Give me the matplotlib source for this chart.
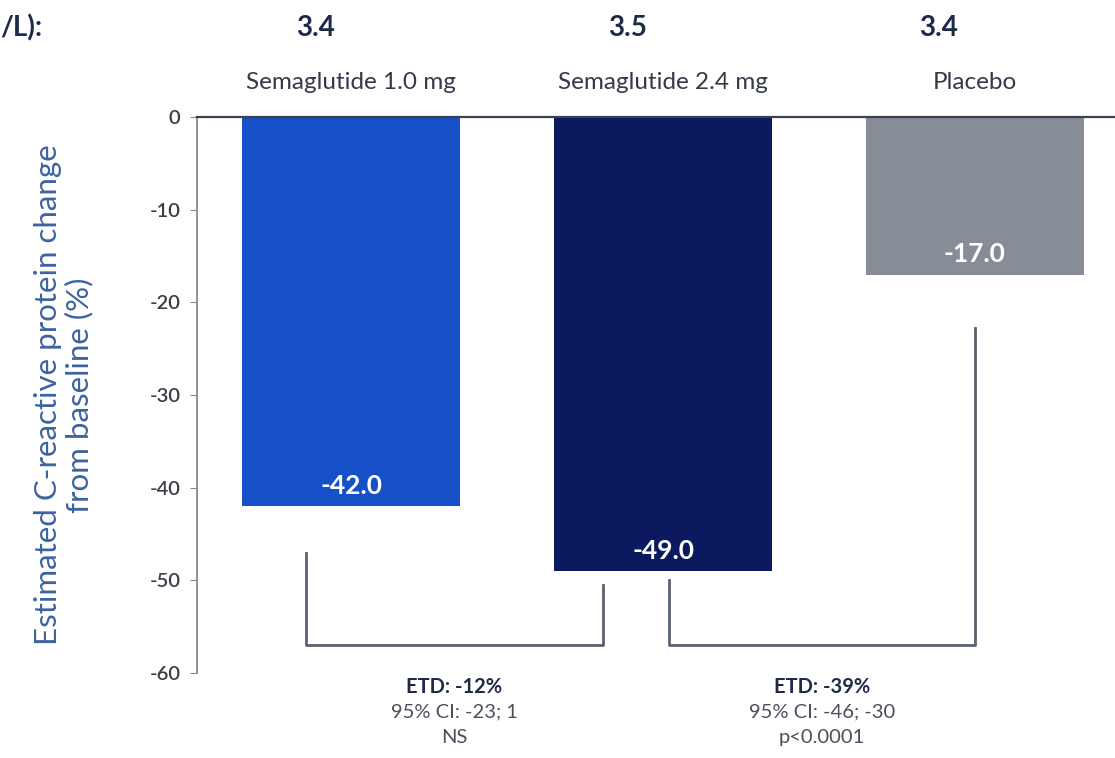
import matplotlib.pyplot as plt

plt.rcParams['font.family'] = ['Lato', 'DejaVu Sans']

# data
groups    = ["Semaglutide 1.0 mg", "Semaglutide 2.4 mg", "Placebo"]
changes   = [-42.0, -49.0, -17.0]
baseline  = ["3.4", "3.5", "3.4"]
yticks    = [0, -10, -20, -30, -40, -50, -60]
etd_lines = [["ETD: -12%", "95% CI: -23; 1", "NS"],
             ["ETD: -39%", "95% CI: -46; -30", "p<0.0001"]]
pairs     = [(0, 1), (1, 2)]

colors = ["#1550c8", "#0b1a5e", "#878d97"]
NAVY   = "#1f2a4a"
GREY   = "#4a4f5c"
LINE   = "#5b6170"

fig = plt.figure(figsize = (11.15, 7.58), dpi = 100)
ax = fig.add_axes([0.1767, 0.1121, 0.8233, 0.7335])

x = list(range(len(groups)))
ax.bar(x, changes, width = 0.70, color = colors, zorder = 2)

ax.set_xlim(-0.495, 2.45)
ax.set_ylim(-60, 0)
ax.set_yticks(yticks)
ax.set_yticklabels([str(t) for t in yticks], fontsize = 14.5, color = "#3a3d45",
                   fontweight = "semibold")
ax.set_xticks([])
ax.tick_params(axis = "y", direction = "out", length = 5, color = "#888888", pad = 7)

ax.spines["right"].set_visible(False)
ax.spines["bottom"].set_visible(False)
ax.spines["left"].set_color("#8a8a8a")
ax.spines["left"].set_linewidth(1.3)
ax.spines["top"].set_color("#3c4050")
ax.spines["top"].set_linewidth(1.6)

ax.set_ylabel("Estimated C-reactive protein change\nfrom baseline (%)",
              fontsize = 22.5, color = "#3d63a0", labelpad = 40, linespacing = 1.15)

# value labels inside bars
for i, v in enumerate(changes):
    ax.text(i, v + 2.2, f"{v:.1f}", ha = "center", va = "center",
            color = "white", fontsize = 19, fontweight = "bold", zorder = 3)

# group labels and baseline values above the plot
for i, name in enumerate(groups):
    ax.text(i, 3.7, name, ha = "center", va = "center", fontsize = 17.5,
            color = "#353a4a", clip_on = False)
    ax.text(i - 0.115, 9.6, baseline[i], ha = "center", va = "center",
            fontsize = 20, fontweight = "bold", color = NAVY, clip_on = False)

fig.text(0.0, 1 - 28 / 758, "/L):", ha = "left", va = "center",
         fontsize = 20, fontweight = "bold", color = NAVY)

# comparison brackets
bracket_y = -57.0
starts = [(-0.145, changes[0] - 5.0), (1.02, changes[1] - 1.0)]
ends   = [(0.807, changes[1] - 1.5), (2.0, changes[2] - 5.8)]
for k, (a, b) in enumerate(pairs):
    x0, y0 = starts[k]
    x1, y1 = ends[k]
    ax.plot([x0, x0, x1, x1], [y0, bracket_y, bracket_y, y1], color = LINE,
            lw = 2, clip_on = False, solid_joinstyle = "round", zorder = 1)
    xc = (x0 + x1) / 2
    ax.text(xc, -61.5, etd_lines[k][0], ha = "center", va = "center",
            fontsize = 14.5, fontweight = "bold", color = NAVY, clip_on = False)
    ax.text(xc, -64.2, etd_lines[k][1], ha = "center", va = "center",
            fontsize = 14.5, color = GREY, clip_on = False)
    ax.text(xc, -67.0, etd_lines[k][2], ha = "center", va = "center",
            fontsize = 14.5, color = GREY, clip_on = False)

plt.savefig("out.png", dpi = 100)
